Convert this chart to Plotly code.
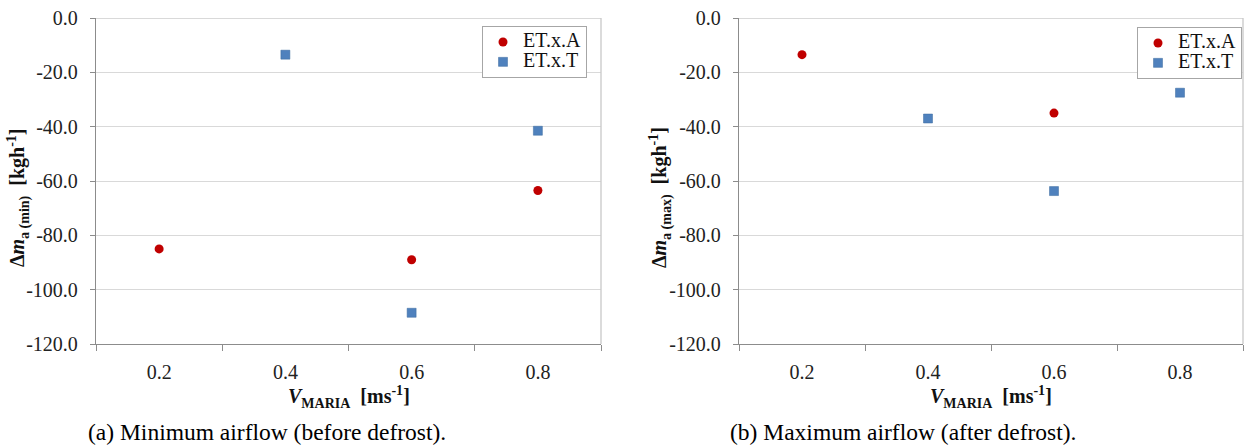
import plotly.graph_objects as go

# ---- data ----
series_names = ["ET.x.A", "ET.x.T"]
# (a) Minimum airflow (before defrost)
a_A_x = [0.2, 0.6, 0.8]
a_A_y = [-85.0, -89.0, -63.5]
a_T_x = [0.4, 0.6, 0.8]
a_T_y = [-13.5, -108.5, -41.5]
# (b) Maximum airflow (after defrost)
b_A_x = [0.2, 0.6]
b_A_y = [-13.5, -35.0]
b_T_x = [0.4, 0.6, 0.8]
b_T_y = [-37.0, -63.7, -27.5]

x_ticks = [0.2, 0.4, 0.6, 0.8]
x_ticktext = ["0.2", "0.4", "0.6", "0.8"]
y_ticks = [0, -20, -40, -60, -80, -100, -120]
y_ticktext = ["0.0", "-20.0", "-40.0", "-60.0", "-80.0", "-100.0", "-120.0"]

subtitles = ["(a) Minimum airflow (before defrost).", "(b) Maximum airflow (after defrost)."]
y_titles = ["<b>Δ<i>m</i><sub>a (min)</sub>  [kgh<sup>-1</sup>]</b>",
            "<b>Δ<i>m</i><sub>a (max)</sub>  [kgh<sup>-1</sup>]</b>"]
x_title = "<b><i>V</i><sub>MARIA</sub>  [ms<sup>-1</sup>]</b>"

RED = "#C00000"
BLUE = "#4F81BD"
FONT = "Times New Roman, Liberation Serif, serif"
W, H = 1244, 448

fig = go.Figure()

def legend_label(name):
    # legend box uses a compact line height; label itself drawn at 20px
    return f'<span style="font-size:20px">{name}</span>'

panels = [
    (a_A_x, a_A_y, a_T_x, a_T_y, "x", "y", "legend"),
    (b_A_x, b_A_y, b_T_x, b_T_y, "x2", "y2", "legend2"),
]
for (ax, ay, tx, ty, xr, yr, lg) in panels:
    fig.add_trace(go.Scatter(x=ax, y=ay, mode="markers", name=legend_label(series_names[0]),
                             marker=dict(symbol="circle", size=9, color=RED,
                                         line=dict(width=0)),
                             xaxis=xr, yaxis=yr, legend=lg))
    fig.add_trace(go.Scatter(x=tx, y=ty, mode="markers", name=legend_label(series_names[1]),
                             marker=dict(symbol="square", size=9, color=BLUE,
                                         line=dict(width=0.5, color="#3A6A9E")),
                             xaxis=xr, yaxis=yr, legend=lg))

def px_x(p):
    return p / W

def px_y(p):
    return 1 - p / H

top, bottom = 18, 344
doms = [(96, 601), (739, 1243)]

xcommon = dict(range=[0.1, 0.9], tickvals=x_ticks, ticktext=x_ticktext, ticks="",
               showgrid=False, zeroline=False, showline=True, linecolor="#8C8C8C",
               linewidth=1.3, automargin=False,
               tickfont=dict(family=FONT, size=20, color="#222"),
               ticklabelstandoff=10,
               minor=dict(tickvals=[0.1, 0.3, 0.5, 0.7, 0.9], ticks="outside",
                          ticklen=6, tickcolor="#8C8C8C", tickwidth=1, showgrid=False))
ycommon = dict(range=[-120, 0], tickvals=y_ticks, ticktext=y_ticktext,
               ticks="outside", ticklen=5, tickcolor="#8C8C8C", automargin=False,
               showgrid=True, gridcolor="#D9D9D9", gridwidth=1.3,
               zeroline=True, zerolinecolor="#D9D9D9", zerolinewidth=1.3,
               showline=True, linecolor="#8C8C8C", linewidth=1.3,
               tickfont=dict(family=FONT, size=20, color="#222"),
               ticklabelstandoff=8)

legend_common = dict(xanchor="right", yanchor="top",
                     bgcolor="white", bordercolor="#A6A6A6", borderwidth=1,
                     font=dict(family=FONT, size=13, color="#111"),
                     tracegroupgap=0, itemwidth=30)

fig.update_layout(
    template="none",
    xaxis=dict(domain=[px_x(doms[0][0]), px_x(doms[0][1])], anchor="y", **xcommon),
    yaxis=dict(domain=[px_y(bottom), px_y(top)], anchor="x", **ycommon),
    xaxis2=dict(domain=[px_x(doms[1][0]), px_x(doms[1][1])], anchor="y2", **xcommon),
    yaxis2=dict(domain=[px_y(bottom), px_y(top)], anchor="x2", **ycommon),
    width=W, height=H,
    margin=dict(l=0, r=0, t=0, b=0, autoexpand=False),
    paper_bgcolor="white", plot_bgcolor="white",
    font=dict(family=FONT, color="#111"),
    legend=dict(x=px_x(587), y=px_y(26), **legend_common),
    legend2=dict(x=px_x(1242), y=px_y(27), **legend_common),
)

# right border of plot area
for xr in ["x", "x2"]:
    yr = "y" if xr == "x" else "y2"
    fig.add_shape(type="line", xref=f"{xr} domain", yref=f"{yr} domain",
                  x0=1, x1=1, y0=0, y1=1, line=dict(color="#C8C8C8", width=1.3))

annotations = []
centers = [(96 + 601) / 2, (739 + 1243) / 2]
sub_centers = [267, 903]
ytitle_x = [18, 660]
for i in range(2):
    annotations.append(dict(text=x_title, x=px_x(centers[i]), y=px_y(397),
                            xref="paper", yref="paper", showarrow=False,
                            xanchor="center", yanchor="middle",
                            font=dict(family=FONT, size=20, color="#111")))
    annotations.append(dict(text=subtitles[i], x=px_x(sub_centers[i]), y=px_y(432),
                            xref="paper", yref="paper", showarrow=False,
                            xanchor="center", yanchor="middle",
                            font=dict(family=FONT, size=23.5, color="#000")))
    annotations.append(dict(text=y_titles[i], x=px_x(ytitle_x[i]), y=px_y(198),
                            xref="paper", yref="paper", showarrow=False,
                            textangle=-90, xanchor="center", yanchor="middle",
                            font=dict(family=FONT, size=20, color="#111")))
fig.update_layout(annotations=annotations)

fig.write_html("out.html", config={"displayModeBar": False},
               post_script="document.body.style.margin='0';document.body.style.overflow='hidden';")
